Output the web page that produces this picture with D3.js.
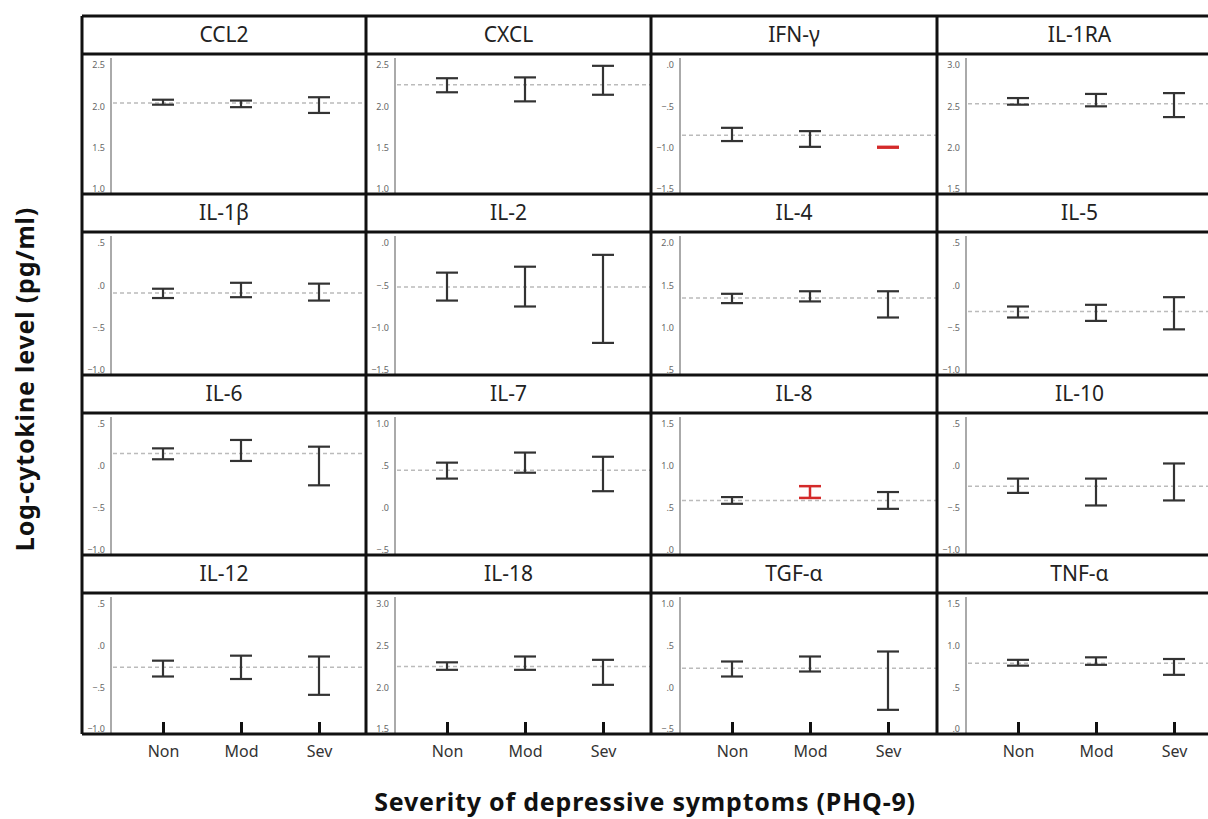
<!DOCTYPE html>
<html>
<head>
<meta charset="utf-8">
<title>Cytokines by PHQ-9 severity</title>
<script src="https://cdn.jsdelivr.net/npm/d3@7"></script>
<style>
 body { margin: 0; background: #fff; }
 svg text { font-family: "Noto Sans", "Open Sans", sans-serif; }
</style>
</head>
<body>
<div id="chart"></div>
<script>
// panel names, in reading order
var cytokines = ["CCL2", "CXCL", "IFN-γ", "IL-1RA",
                 "IL-1β", "IL-2", "IL-4", "IL-5",
                 "IL-6", "IL-7", "IL-8", "IL-10",
                 "IL-12", "IL-18", "TGF-α", "TNF-α"];
var groups = ["Non", "Mod", "Sev"];

// bottom of each y axis (every axis spans 1.5)
var yMin = [1.0, 1.0, -1.5, 1.5,
            -1.0, -1.5, 0.5, -1.0,
            -1.0, -0.5, 0.0, -1.0,
            -1.0, 1.5, -0.5, 0.0];
var yTicks = [0, 0.5, 1.0, 1.5]; // offsets from yMin

// dashed line = overall mean
var grandMean = [2.04, 2.26, -0.85, 2.53,
                 -0.09, -0.52, 1.35, -0.31,
                 0.15, 0.45, 0.59, -0.24,
                 -0.26, 2.25, 0.23, 0.79];

// error bar ends, Non / Mod / Sev
var lower = [[2.02, 1.99, 1.92], [2.17, 2.06, 2.14], [-0.92, -0.99, -1.0], [2.52, 2.5, 2.37],
             [-0.15, -0.14, -0.18], [-0.68, -0.75, -1.18], [1.29, 1.31, 1.12], [-0.38, -0.42, -0.52],
             [0.08, 0.06, -0.23], [0.35, 0.42, 0.2], [0.55, 0.62, 0.49], [-0.32, -0.47, -0.41],
             [-0.37, -0.4, -0.59], [2.21, 2.21, 2.03], [0.13, 0.19, -0.27], [0.76, 0.77, 0.65]];
var upper = [[2.08, 2.07, 2.11], [2.34, 2.35, 2.49], [-0.76, -0.8, -0.99], [2.6, 2.65, 2.66],
             [-0.04, 0.03, 0.02], [-0.35, -0.28, -0.14], [1.4, 1.43, 1.43], [-0.25, -0.23, -0.14],
             [0.21, 0.31, 0.23], [0.54, 0.66, 0.61], [0.63, 0.76, 0.69], [-0.15, -0.15, 0.03],
             [-0.18, -0.12, -0.13], [2.3, 2.37, 2.33], [0.31, 0.37, 0.43], [0.83, 0.86, 0.84]];

// bars drawn in red
var redBars = [["IFN-γ", "Sev"], ["IL-8", "Mod"]];

var W = 1208, H = 819;
var colX = [82, 366, 651, 937, 1222];
var rowY = [16, 194, 375, 555, 734];
var titleH = 38;

var svg = d3.select("#chart").append("svg")
    .attr("width", W).attr("height", H);

var fmt = function(v) {
  return d3.format(".1f")(v).replace("0.", ".");
};

cytokines.forEach(function(name, i) {
  var c = i % 4, r = Math.floor(i / 4);
  var x0 = colX[c], x1 = colX[c + 1];
  var y0 = rowY[r], y1 = rowY[r + 1];
  var pTop = y0 + titleH;
  var g = svg.append("g");

  // title band
  g.append("text")
    .attr("x", (x0 + x1) / 2).attr("y", y0 + titleH / 2 + 7)
    .attr("text-anchor", "middle")
    .style("font-size", "21px").style("fill", "#222")
    .text(name);

  var y = d3.scaleLinear()
    .domain([yMin[i], yMin[i] + 1.5])
    .range([y1 - 5, pTop + 11]);
  var x = d3.scalePoint().domain(groups)
    .range([x0 + 81, x0 + 237]);

  var axisX = x0 + 29;
  var yAxis = d3.axisLeft(y)
    .tickValues(yTicks.map(function(t) { return yMin[i] + t; }))
    .tickSize(0).tickPadding(6)
    .tickFormat(fmt);
  var ag = g.append("g").attr("transform", "translate(" + axisX + ",0)").call(yAxis);
  ag.select(".domain").remove();
  ag.selectAll("text").style("font-size", "9px").style("fill", "#666");
  g.append("line")
    .attr("x1", axisX).attr("x2", axisX)
    .attr("y1", pTop + 4).attr("y2", y1 - 1)
    .style("stroke", "#aaa").style("stroke-width", 2);

  // mean line
  g.append("line")
    .attr("x1", axisX + 2).attr("x2", x1)
    .attr("y1", y(grandMean[i])).attr("y2", y(grandMean[i]))
    .style("stroke", "#bbb").style("stroke-width", 1.5)
    .style("stroke-dasharray", "4,3");

  // error bars
  groups.forEach(function(grp, k) {
    var red = redBars.some(function(b) { return b[0] === name && b[1] === grp; });
    var col = red ? "#d42a2a" : "#333";
    var cx = x(grp), lo = y(lower[i][k]), hi = y(upper[i][k]);
    var bar = g.append("g").style("stroke", col).style("stroke-width", red ? 2.5 : 2.2);
    bar.append("line").attr("x1", cx).attr("x2", cx).attr("y1", lo).attr("y2", hi);
    bar.append("line").attr("x1", cx - 11).attr("x2", cx + 11).attr("y1", lo).attr("y2", lo);
    bar.append("line").attr("x1", cx - 11).attr("x2", cx + 11).attr("y1", hi).attr("y2", hi);
  });

  // bottom row category axis
  if (r === 3) {
    var xAxis = d3.axisBottom(x).tickSize(-12).tickPadding(12);
    var xg = g.append("g").attr("transform", "translate(0," + y1 + ")").call(xAxis);
    xg.select(".domain").remove();
    xg.selectAll("line").style("stroke", "#111").style("stroke-width", 3);
    xg.selectAll("text").style("font-size", "16px").style("fill", "#333");
  }
});

// panel frame lines
var frame = svg.append("g").style("stroke", "#111").style("stroke-width", 3);
rowY.forEach(function(ry) {
  frame.append("line").attr("x1", colX[0]).attr("x2", colX[4]).attr("y1", ry).attr("y2", ry);
});
rowY.slice(0, 4).forEach(function(ry) {
  frame.append("line").attr("x1", colX[0]).attr("x2", colX[4])
    .attr("y1", ry + titleH).attr("y2", ry + titleH);
});
colX.forEach(function(cx) {
  frame.append("line").attr("x1", cx).attr("x2", cx).attr("y1", rowY[0]).attr("y2", rowY[4]);
});

// axis titles
svg.append("text")
  .attr("transform", "translate(34,379) rotate(-90)")
  .attr("text-anchor", "middle")
  .style("font-size", "25px").style("font-weight", "bold").style("fill", "#111")
  .style("letter-spacing", "0.8px")
  .text("Log-cytokine level (pg/ml)");
svg.append("text")
  .attr("x", 645).attr("y", 811)
  .attr("text-anchor", "middle")
  .style("font-size", "25px").style("font-weight", "bold").style("fill", "#111")
  .style("letter-spacing", "0.8px")
  .text("Severity of depressive symptoms (PHQ-9)");
</script>
</body>
</html>
